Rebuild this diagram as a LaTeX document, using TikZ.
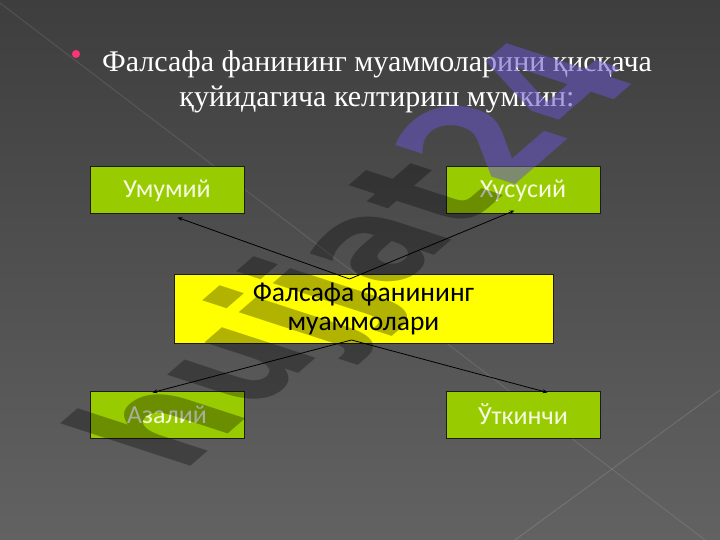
\documentclass[tikz,border=0pt]{standalone}
\usepackage{fontspec}
\setmainfont{Liberation Serif}
\newfontfamily\boxfont{Carlito}
\newfontfamily\wmfont{DejaVu Sans}
\usetikzlibrary{arrows.meta,calc}
\definecolor{bgtop}{RGB}{62,62,62}
\definecolor{bgbot}{RGB}{98,98,98}
\definecolor{boxgreen}{RGB}{153,204,0}
\definecolor{boxyellow}{RGB}{255,255,0}
\definecolor{boxline}{RGB}{28,28,20}
\definecolor{boxtext}{RGB}{246,250,226}
\definecolor{bulletpink}{RGB}{255,51,120}
\definecolor{wmpurple}{RGB}{104,84,200}
\tikzset{
  gbox/.style={draw=boxline, line width=1pt, fill=boxgreen, minimum width=154pt,
    minimum height=47pt, inner sep=0pt, text=boxtext,
    font=\boxfont\fontsize{26}{30}\selectfont},
  ybox/.style={draw=boxline, line width=1pt, fill=boxyellow, minimum width=379pt,
    minimum height=69pt, inner sep=0pt, text=black, align=center,
    font=\boxfont\fontsize{27.5}{29}\selectfont},
  ttl/.style={text=white, inner sep=0pt, font=\fontsize{30}{35}\selectfont},
  arr/.style={draw=black, line width=0.8pt, -{Stealth[length=5pt,width=4pt]}},
  wm/.style={transform shape, anchor=base west, inner sep=0pt,
    font=\wmfont\bfseries\fontsize{127}{127}\selectfont}
}
\begin{document}
\begin{tikzpicture}[x=1pt,y=-1pt]
\useasboundingbox (0,0) rectangle (720,540);
\shade[top color=bgtop, bottom color=bgbot] (0,0) rectangle (720,540);
\draw[white, opacity=0.10, line width=1pt] (0,3) -- (705,540);
\draw[white, opacity=0.12, line width=1pt] (720,390) -- (515,540);
% title
\node[circle, fill=bulletpink, inner sep=0pt, minimum size=8pt] (bullet) at (76,54) {};
\node[ttl, anchor=base] (t1) at (377,72) {Фалсафа фанининг муаммоларини қисқача};
\node[ttl, anchor=base] (t2) at (377,107) {қуйидагича келтириш мумкин:};
% boxes
\node[gbox] (umumiy) at (167,190.5) {Умумий};
\node[gbox] (xususiy) at (523,190.5) {Хусусий};
\node[ybox] (center) at (363.5,309) {Фалсафа фанининг\\муаммолари};
\node[gbox] (azaliy) at (167,414.5) {Азалий};
\node[gbox] (utkinchi) at (523,414.5) {Ўткинчи};
% connectors
\coordinate (jt) at ($(center.north west)+(176,5)$);
\coordinate (jb) at ($(center.south west)+(178,-4)$);
\draw[arr] (jt) -- ([xshift=88pt,yshift=-3pt]umumiy.south west);
\draw[arr] (jt) -- ([xshift=69pt,yshift=4pt]xususiy.south west);
\draw[arr] (jb) -- ([xshift=63pt,yshift=-2pt]azaliy.north west);
\draw[arr] (jb) -- ([xshift=102pt,yshift=-2pt]utkinchi.north west);
% watermark
\begin{scope}[cm={0.785,0.68,-1.35,0.44,(182,474)}]
\node[wm, text=black, text opacity=0.30] (wm1) at (0,0) {hujjat};
\node[wm, text=wmpurple, text opacity=0.55] (wm2) at (wm1.base east) {24};
\end{scope}
\end{tikzpicture}
\end{document}
